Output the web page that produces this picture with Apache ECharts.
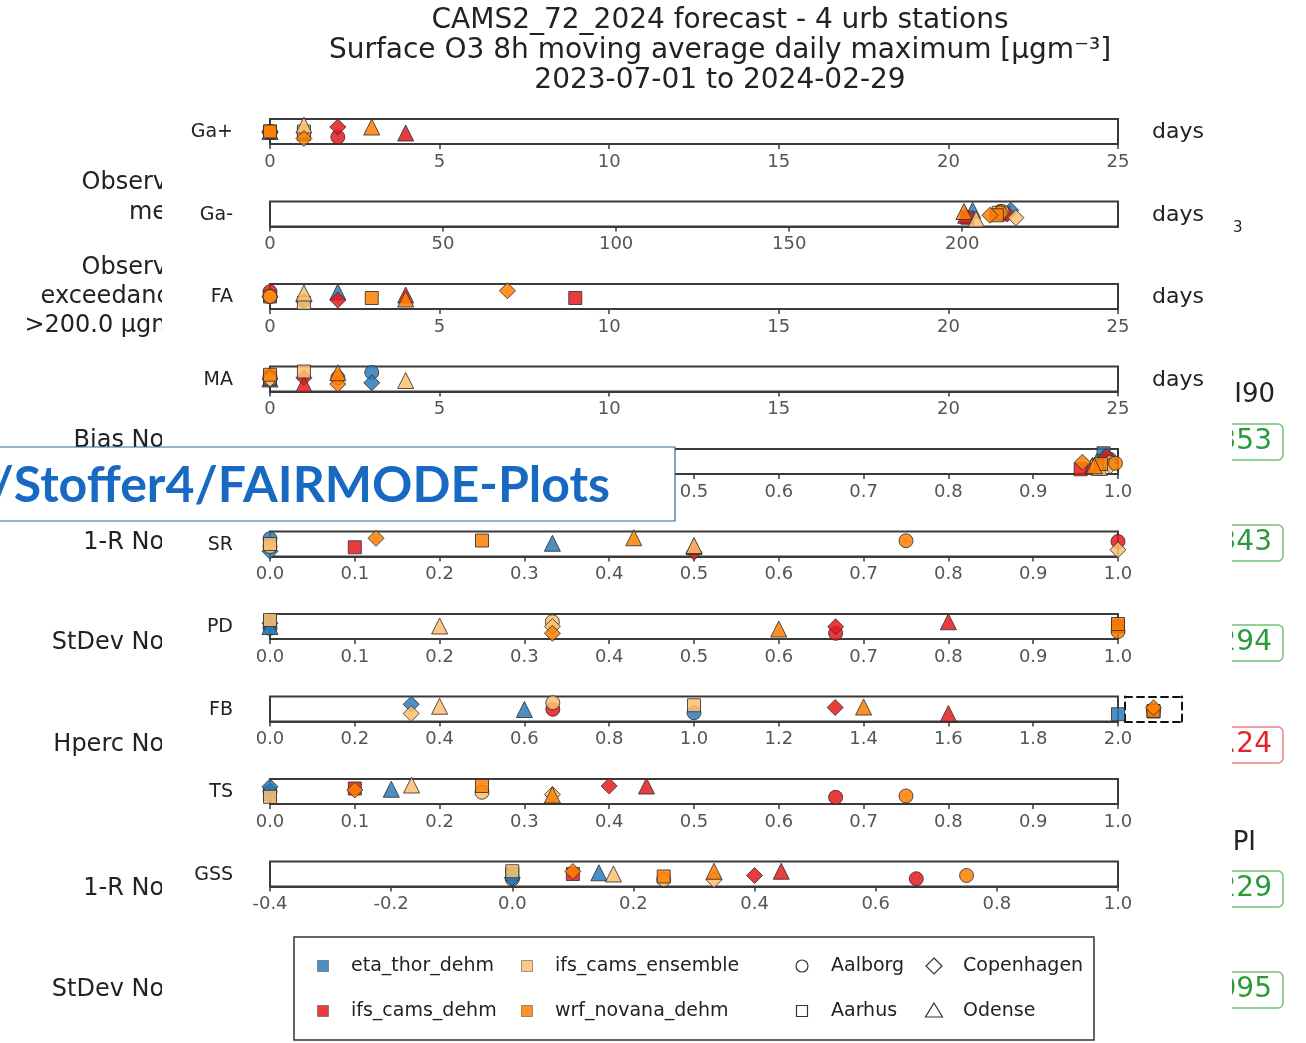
<!DOCTYPE html>
<html>
<head>
<meta charset="utf-8">
<script src="https://cdn.jsdelivr.net/npm/echarts@6/dist/echarts.min.js"></script>
<style>
  html, body { margin: 0; padding: 0; background: #fff; }
  #chart { width: 1306px; height: 1043px; }
</style>
</head>
<body>
<div id="chart"></div>
<script>
// ---- categories ----
const models = ['eta_thor_dehm', 'ifs_cams_dehm', 'ifs_cams_ensemble', 'wrf_novana_dehm'];
const stations = ['Aalborg', 'Aarhus', 'Copenhagen', 'Odense'];
const metrics = ['Ga+', 'Ga-', 'FA', 'MA', '', 'SR', 'PD', 'FB', 'TS', 'GSS'];
const units = ['days', 'days', 'days', 'days', '', '', '', '', '', ''];

// ---- axis ranges per metric ----
const axisMin = [0, 0, 0, 0, 0, 0, 0, 0, 0, -0.4];
const axisMax = [25, 245, 25, 25, 1, 1, 1, 2, 1, 1];
const axisStep = [5, 50, 5, 5, 0.1, 0.1, 0.1, 0.2, 0.1, 0.2];
const axisDecimals = [0, 0, 0, 0, 1, 1, 1, 1, 1, 1];

// ---- values: [model][station] (Aalborg, Aarhus, Copenhagen, Odense) ----
const gaPlus  = [[0, 1, 0, 0], [2, 0, 2, 4], [0, 1, 0, 1], [0, 0, 1, 3]];
const gaMinus = [[211, 212, 214, 203], [212, 201.5, 213, 201], [211.5, 210.5, 215.5, 204], [211, 210, 208, 200.5]];
const fa      = [[0, 0, 1, 2], [0, 9, 2, 4], [0, 1, 0, 1], [0, 3, 7, 4]];
const ma      = [[3, 0, 3, 0], [0, 0, 1, 1], [0, 1, 0, 4], [2, 0, 2, 2]];
const bias    = [[0.99, 0.983, 0.985, 0.975], [0.985, 0.956, 0.987, 0.97], [0.99, 0.975, 0.991, 0.978], [0.997, 0.98, 0.958, 0.972]];
const sr      = [[0, 0, 0, 0.333], [1.0, 0.1, 0.5, 0.5], [0, 0, 1.0, 0.5], [0.75, 0.25, 0.125, 0.429]];
const pd      = [[0, 0, 0, 0], [0.667, 1.0, 0.667, 0.8], [0.333, 0, 0.333, 0.2], [1.0, 1.0, 0.333, 0.6]];
const fb      = [[1.0, 2.0, 0.333, 0.6], [0.667, Infinity, 1.333, 1.6], [0.667, 1.0, 0.333, 0.4], [Infinity, Infinity, Infinity, 1.4]];
const ts      = [[0, 0, 0, 0.143], [0.667, 0.1, 0.4, 0.444], [0.25, 0, 0.333, 0.167], [0.75, 0.25, 0.1, 0.333]];
const gss     = [[0, 0, 0, 0.143], [0.667, 0.1, 0.4, 0.444], [0.25, 0, 0.333, 0.167], [0.75, 0.25, 0.1, 0.333]];

// ---- vertical jitter inside each strip (0 = bottom, 1 = top) ----
const gaPlusJit  = [[0.45, 0.4, 0.45, 0.5], [0.28, 0.5, 0.68, 0.44], [0.5, 0.5, 0.5, 0.76], [0.5, 0.5, 0.22, 0.68]];
const gaMinusJit = [[0.6, 0.55, 0.65, 0.65], [0.5, 0.35, 0.5, 0.45], [0.6, 0.55, 0.35, 0.3], [0.55, 0.45, 0.45, 0.6]];
const faJit      = [[0.5, 0.5, 0.3, 0.68], [0.69, 0.44, 0.36, 0.56], [0.5, 0.24, 0.49, 0.64], [0.5, 0.44, 0.73, 0.4]];
const maJit      = [[0.76, 0.55, 0.35, 0.5], [0.6, 0.5, 0.55, 0.3], [0.5, 0.8, 0.5, 0.44], [0.55, 0.67, 0.3, 0.75]];
const biasJit    = [[0.6, 0.83, 0.7, 0.5], [0.5, 0.19, 0.69, 0.35], [0.45, 0.3, 0.33, 0.26], [0.43, 0.4, 0.47, 0.33]];
const srJit      = [[0.71, 0.45, 0.21, 0.53], [0.6, 0.37, 0.17, 0.4], [0.4, 0.5, 0.27, 0.44], [0.63, 0.64, 0.73, 0.75]];
const pdJit      = [[0.43, 0.7, 0.63, 0.5], [0.23, 0.5, 0.49, 0.69], [0.69, 0.76, 0.5, 0.52], [0.3, 0.6, 0.23, 0.4]];
const fbJit      = [[0.35, 0.29, 0.69, 0.48], [0.49, 0.4, 0.56, 0.32], [0.75, 0.65, 0.32, 0.61], [0.45, 0.42, 0.55, 0.58]];
const tsJit      = [[0.5, 0.4, 0.69, 0.59], [0.27, 0.62, 0.72, 0.72], [0.47, 0.29, 0.38, 0.76], [0.32, 0.72, 0.56, 0.36]];
const gssJit     = [[0.3, 0.5, 0.35, 0.55], [0.31, 0.5, 0.44, 0.61], [0.28, 0.61, 0.27, 0.5], [0.44, 0.4, 0.6, 0.61]];

// ---- report panel behind the strips ----
const sideLabels = [
  ['Observed', 183], ['mean', 213],
  ['Observed', 268], ['exceedances', 297], ['>200.0 \u00b5gm\u207b\u00b3', 326],
  ['Bias Norm', 441], ['1-R Norm', 543], ['StDev Norm', 643],
  ['Hperc Norm', 745], ['1-R Norm', 889], ['StDev Norm', 990]
];
const scoreTexts = ['0.353', '0.343', '0.294', '1.24', '0.229', '0.095'];
const scoreRows = [442, 543, 643, 745, 889, 990];
const scoreOk = [true, true, true, false, true, true];

const rowValues = [gaPlus, gaMinus, fa, ma, bias, sr, pd, fb, ts, gss];
const rowJitter = [gaPlusJit, gaMinusJit, faJit, maJit, biasJit, srJit, pdJit, fbJit, tsJit, gssJit];

const FONT = '"DejaVu Sans", sans-serif';
const colors = ['#2b7bba', '#e41a1c', '#fdbf6f', '#ff7f00'];
const symbols = ['circle', 'rect', 'diamond', 'triangle'];
const symbolSizes = [14, 13, 16, 16];

const STRIP_LEFT = 270, STRIP_WIDTH = 848, STRIP_H = 25;
const rowTop = r => 119 + r * 82.5;
const OVER = metrics.length; // index of the overflow box grid

const grids = [], xAxes = [], yAxes = [], series = [];

metrics.forEach((m, r) => {
  grids.push({
    left: STRIP_LEFT, width: STRIP_WIDTH, top: rowTop(r), height: STRIP_H,
    show: true, borderColor: '#3a3a3a', borderWidth: 2, backgroundColor: '#fff'
  });
  xAxes.push({
    gridIndex: r, type: 'value', min: axisMin[r], max: axisMax[r], interval: axisStep[r],
    axisLine: { show: true, onZero: false, lineStyle: { color: '#3a3a3a', width: 2 } },
    axisTick: { show: true, length: 5, lineStyle: { color: '#3a3a3a', width: 1.5 } },
    axisLabel: {
      color: '#555', fontSize: 18, fontFamily: FONT, margin: 9,
      showMinLabel: true, showMaxLabel: r !== 1,
      formatter: v => Number(v).toFixed(axisDecimals[r])
    },
    splitLine: { show: false }
  });
  yAxes.push({ gridIndex: r, type: 'value', min: 0, max: 1, show: false });
});

// dashed box to the right of the FB strip for values beyond the axis
grids.push({ left: 1125, width: 57, top: rowTop(7), height: STRIP_H, show: false });
const dashed = { show: true, onZero: false, lineStyle: { color: '#111', width: 2, type: [7, 5] } };
xAxes.push({ gridIndex: OVER, type: 'value', min: 0, max: 1, position: 'bottom', axisLine: dashed, axisTick: { show: false }, axisLabel: { show: false }, splitLine: { show: false } });
xAxes.push({ gridIndex: OVER, type: 'value', min: 0, max: 1, position: 'top', axisLine: dashed, axisTick: { show: false }, axisLabel: { show: false }, splitLine: { show: false } });
yAxes.push({ gridIndex: OVER, type: 'value', min: 0, max: 1, position: 'left', axisLine: dashed, axisTick: { show: false }, axisLabel: { show: false }, splitLine: { show: false } });
yAxes.push({ gridIndex: OVER, type: 'value', min: 0, max: 1, position: 'right', axisLine: dashed, axisTick: { show: false }, axisLabel: { show: false }, splitLine: { show: false } });

rowValues.forEach((vals, r) => {
  models.forEach((model, mi) => {
    const inside = [], beyond = [];
    stations.forEach((st, si) => {
      const v = vals[mi][si];
      const j = rowJitter[r][mi][si];
      const item = { name: st, symbol: symbols[si], symbolSize: symbolSizes[si] };
      if (isFinite(v)) inside.push(Object.assign({ value: [v, j] }, item));
      else beyond.push(Object.assign({ value: [0.5, j] }, item));
    });
    const style = { color: colors[mi], opacity: 0.85, borderColor: '#333', borderWidth: 1 };
    series.push({ type: 'scatter', name: model, xAxisIndex: r, yAxisIndex: r, data: inside, itemStyle: style, clip: false, silent: true, z: 3 });
    if (beyond.length) {
      series.push({ type: 'scatter', name: model, xAxisIndex: OVER, yAxisIndex: OVER, data: beyond, itemStyle: style, clip: false, silent: true, z: 3 });
    }
  });
});

// ---- graphic layer: report panel, labels, legend, banner ----
const graphic = [];

sideLabels.forEach(([t, y]) => {
  graphic.push({ type: 'text', z: -20, silent: true,
    style: { text: t, x: 197, y: y, textAlign: 'right', textVerticalAlign: 'middle', fill: '#222', fontSize: 24, fontFamily: FONT } });
});
scoreTexts.forEach((t, i) => {
  const y = scoreRows[i];
  const ok = scoreOk[i];
  graphic.push({ type: 'rect', z: -20, silent: true,
    shape: { x: 1180, y: y - 18, width: 103, height: 36, r: 5 },
    style: { fill: '#fff', stroke: ok ? '#73c273' : '#f08080', lineWidth: 1.5 } });
  graphic.push({ type: 'text', z: -19, silent: true,
    style: { text: t, x: 1272, y: y, textAlign: 'right', textVerticalAlign: 'middle', fill: ok ? '#2a9a3a' : '#e8202a', fontSize: 28, fontFamily: FONT } });
});
graphic.push({ type: 'text', z: -20, silent: true, style: { text: 'I90', x: 1275, y: 395, textAlign: 'right', textVerticalAlign: 'middle', fill: '#222', fontSize: 26, fontFamily: FONT } });
graphic.push({ type: 'text', z: -20, silent: true, style: { text: 'PI', x: 1256, y: 843, textAlign: 'right', textVerticalAlign: 'middle', fill: '#222', fontSize: 26, fontFamily: FONT } });
graphic.push({ type: 'text', z: -20, silent: true, style: { text: '3', x: 1233, y: 228, textAlign: 'left', textVerticalAlign: 'middle', fill: '#222', fontSize: 15, fontFamily: FONT } });

// white sheet of the strip figure
graphic.push({ type: 'rect', z: -10, silent: true, shape: { x: 162, y: 0, width: 1070, height: 1043 }, style: { fill: '#fff' } });

// title
graphic.push({ type: 'text', z: 5, silent: true,
  style: { text: 'CAMS2_72_2024 forecast - 4 urb stations\nSurface O3 8h moving average daily maximum [\u00b5gm\u207b\u00b3]\n2023-07-01 to 2024-02-29',
    x: 720, y: 6, textAlign: 'center', textVerticalAlign: 'top', fill: '#222', fontSize: 28, lineHeight: 30, fontFamily: FONT } });

// metric names and units
metrics.forEach((m, r) => {
  const cy = rowTop(r) + STRIP_H / 2;
  if (m) graphic.push({ type: 'text', z: 5, silent: true,
    style: { text: m, x: 233, y: cy + 1, textAlign: 'right', textVerticalAlign: 'middle', fill: '#222', fontSize: 19, fontFamily: FONT } });
  if (units[r]) graphic.push({ type: 'text', z: 5, silent: true,
    style: { text: units[r], x: 1152, y: cy + 1, textAlign: 'left', textVerticalAlign: 'middle', fill: '#222', fontSize: 22, fontFamily: FONT } });
});

// legend
graphic.push({ type: 'rect', z: 5, silent: true, shape: { x: 294, y: 937, width: 800, height: 103 }, style: { fill: '#fff', stroke: '#333', lineWidth: 1.5 } });
const legCols = [323, 527], legStCols = [802, 934], legRows = [966, 1011];
models.forEach((m, i) => {
  const cx = legCols[Math.floor(i / 2)], cy = legRows[i % 2];
  graphic.push({ type: 'rect', z: 6, silent: true, shape: { x: cx - 5.5, y: cy - 5.5, width: 11, height: 11 },
    style: { fill: colors[i], opacity: 0.85, stroke: '#444', lineWidth: 0.6 } });
  graphic.push({ type: 'text', z: 6, silent: true,
    style: { text: m, x: cx + 28, y: cy, textAlign: 'left', textVerticalAlign: 'middle', fill: '#222', fontSize: 19, fontFamily: FONT } });
});
stations.forEach((s, i) => {
  const cx = legStCols[Math.floor(i / 2)], cy = legRows[i % 2];
  const st = { fill: '#fff', stroke: '#333', lineWidth: 1.2 };
  let el;
  if (symbols[i] === 'circle') el = { type: 'circle', shape: { cx: cx, cy: cy, r: 6 } };
  else if (symbols[i] === 'rect') el = { type: 'rect', shape: { x: cx - 5.5, y: cy - 5.5, width: 11, height: 11 } };
  else if (symbols[i] === 'diamond') el = { type: 'polygon', shape: { points: [[cx, cy - 8], [cx + 8, cy], [cx, cy + 8], [cx - 8, cy]] } };
  else el = { type: 'polygon', shape: { points: [[cx, cy - 8], [cx + 8.5, cy + 6], [cx - 8.5, cy + 6]] } };
  graphic.push(Object.assign(el, { z: 6, silent: true, style: st }));
  graphic.push({ type: 'text', z: 6, silent: true,
    style: { text: s, x: cx + 29, y: cy, textAlign: 'left', textVerticalAlign: 'middle', fill: '#222', fontSize: 19, fontFamily: FONT } });
});

// repository banner
graphic.push({ type: 'rect', z: 50, silent: true, shape: { x: -2, y: 447, width: 677, height: 74 }, style: { fill: '#fff', stroke: '#3561a8', lineWidth: 1.2 } });
graphic.push({ type: 'text', z: 51, silent: true,
  style: { text: '/Stoffer4/FAIRMODE-Plots', x: 610, y: 486, textAlign: 'right', textVerticalAlign: 'middle', fill: '#1769c2', fontSize: 50, fontWeight: 'bold', fontFamily: 'Lato, sans-serif' } });

const chart = echarts.init(document.getElementById('chart'));
chart.setOption({
  animation: false,
  backgroundColor: '#fff',
  grid: grids,
  xAxis: xAxes,
  yAxis: yAxes,
  series: series,
  graphic: graphic
});
</script>
</body>
</html>
